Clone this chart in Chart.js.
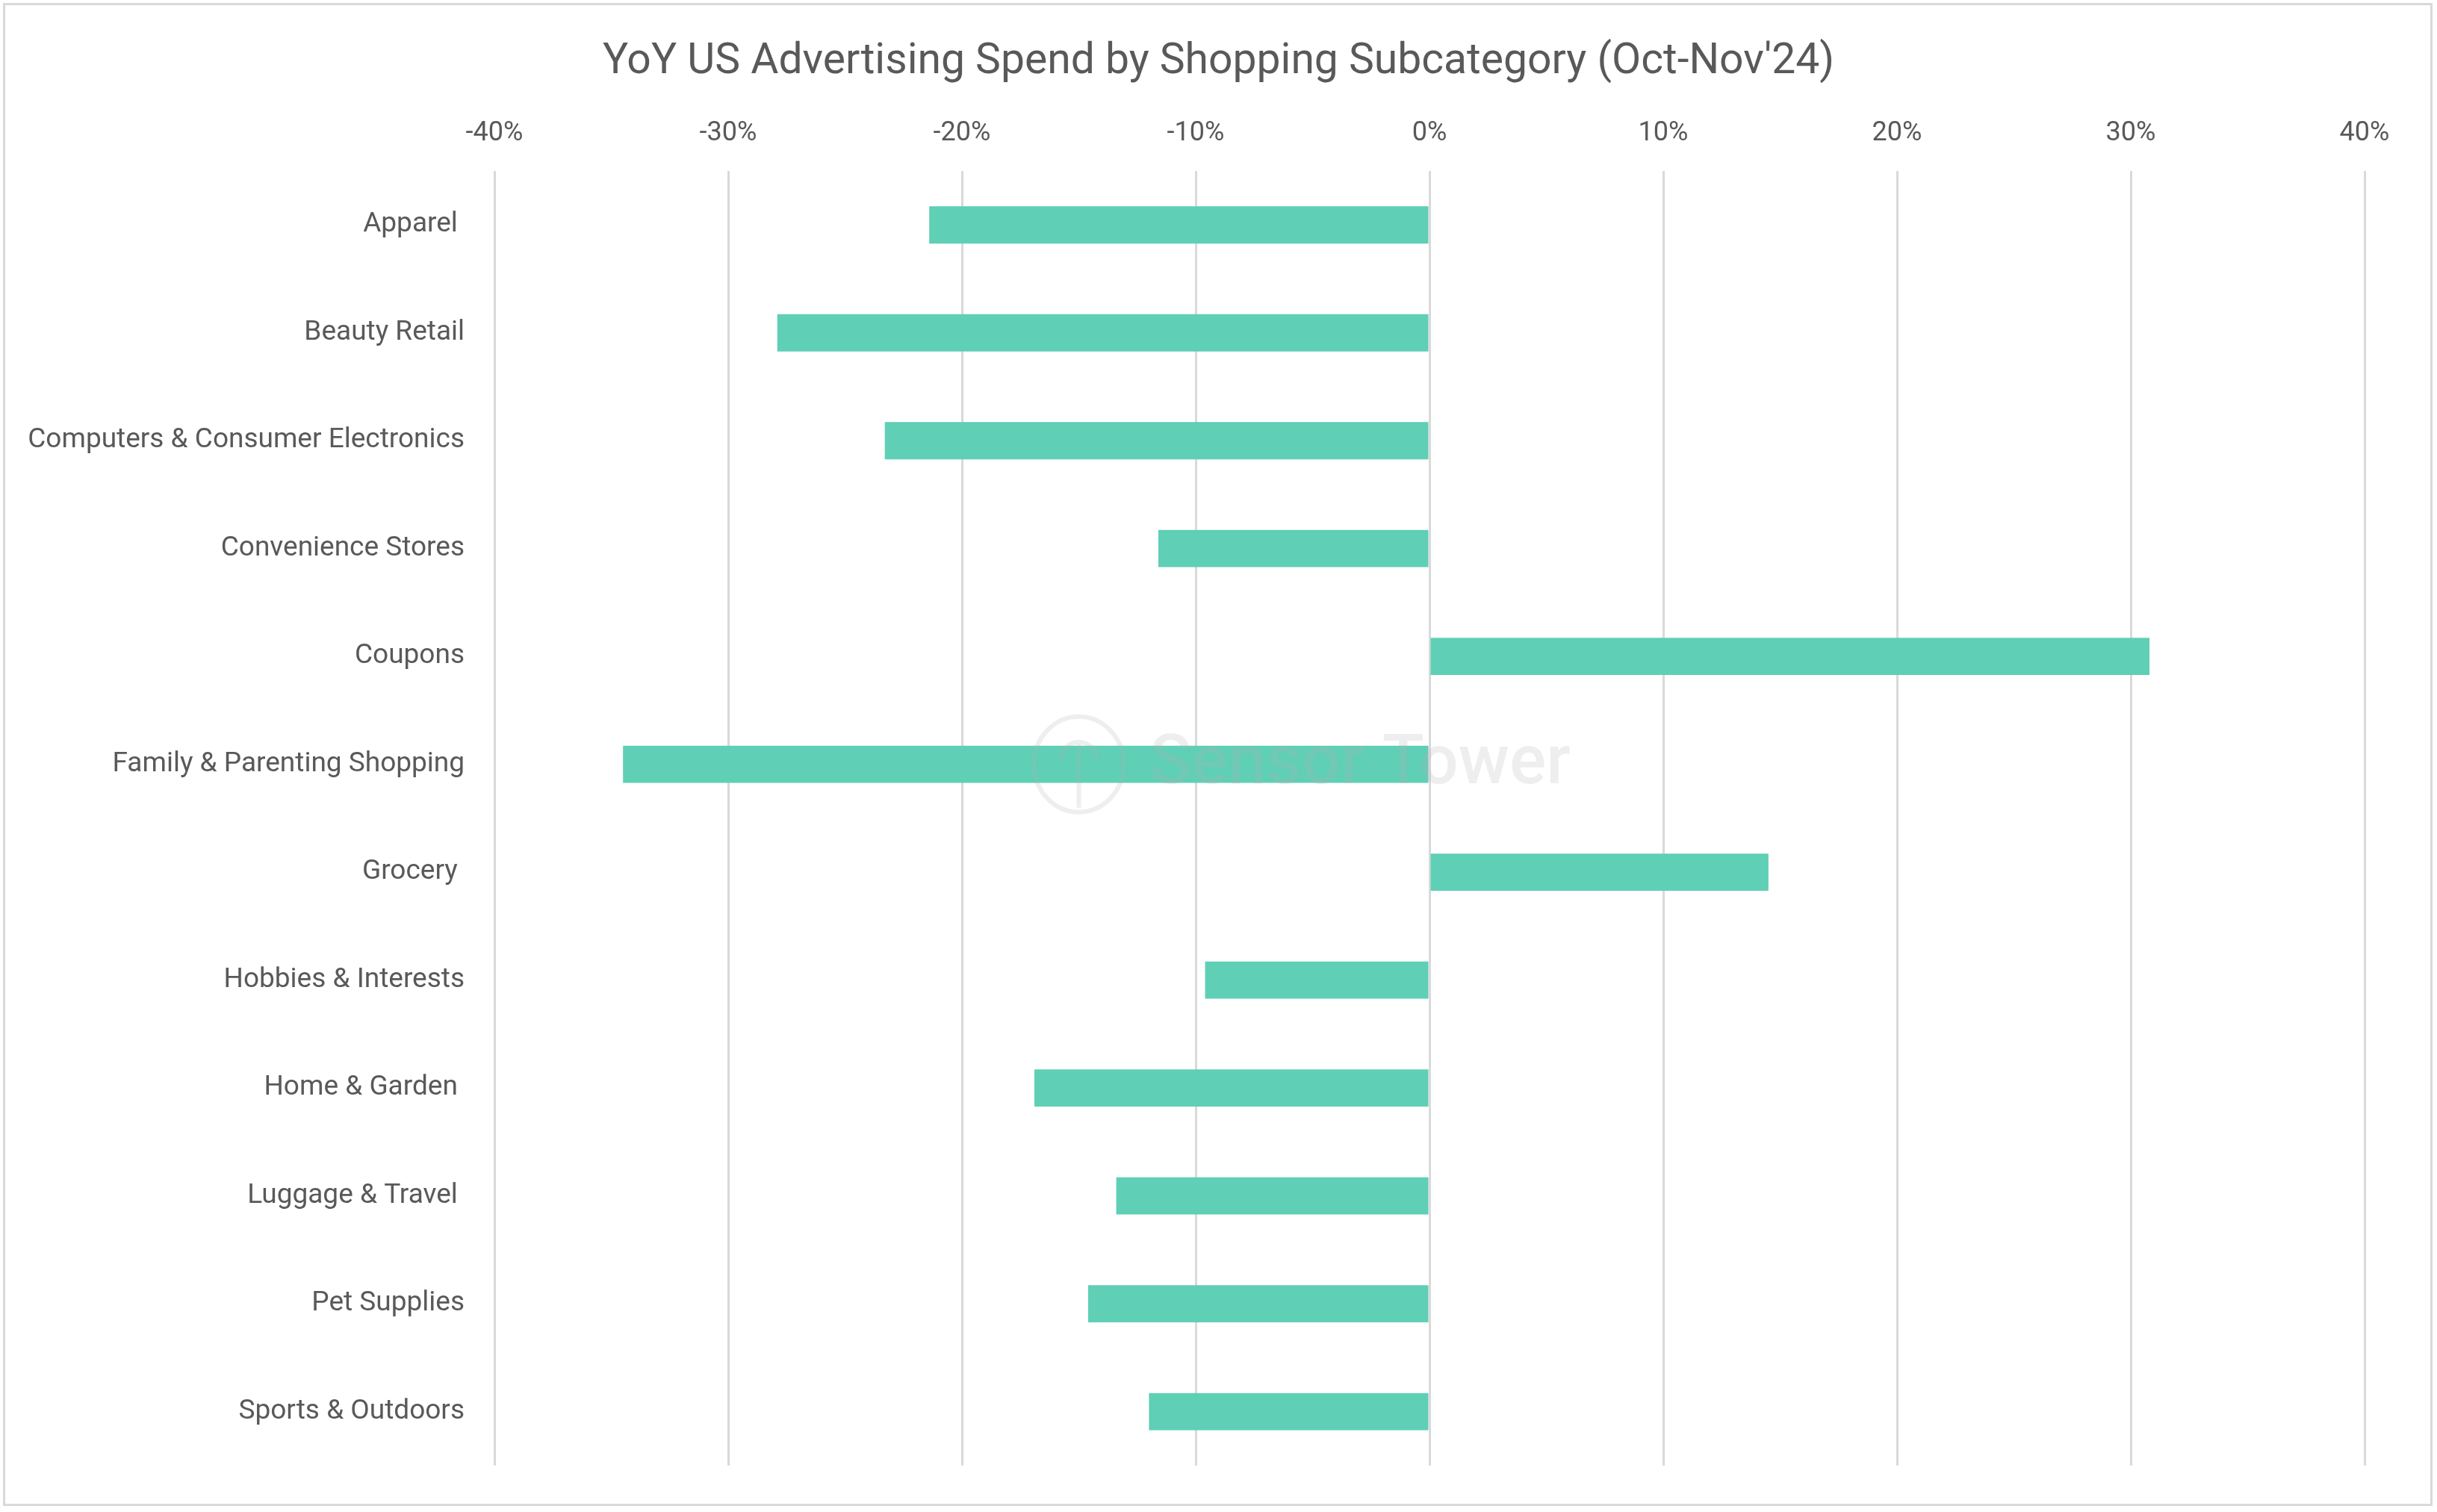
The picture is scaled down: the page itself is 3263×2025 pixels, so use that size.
<!DOCTYPE html>
<html>
<head>
<meta charset="utf-8">
<script src="https://cdn.jsdelivr.net/npm/chart.js@4"></script>
<style>
  html, body { margin: 0; padding: 0; background: #fff; }
  #wrap { position: relative; width: 3263px; height: 2025px; }
  #frame { position: absolute; left: 4px; top: 4px; right: 6px; bottom: 8px; border: 3px solid #d9d9d9; pointer-events: none; }
</style>
</head>
<body>
<div id="wrap">
  <canvas id="chart" width="3263" height="2025"></canvas>
  <div id="frame"></div>
</div>
<script>
const categories = [
  "Apparel ",
  "Beauty Retail",
  "Computers & Consumer Electronics",
  "Convenience Stores",
  "Coupons",
  "Family & Parenting Shopping",
  "Grocery ",
  "Hobbies & Interests",
  "Home & Garden ",
  "Luggage & Travel ",
  "Pet Supplies",
  "Sports & Outdoors"
]
// YoY change in %
const yoyChange = [-21.4, -27.9, -23.3, -11.6, 30.8, -34.5, 14.5, -9.6, -16.9, -13.4, -14.6, -12.0]
const xTicks = [-40, -30, -20, -10, 0, 10, 20, 30, 40]

const textColor = "#595959"
const fontFamily = "Roboto, 'Open Sans', sans-serif"

// faint watermark, painted over the bars like in the source image
const watermark = {
  id: "watermark",
  afterDatasetsDraw(chart) {
    const ctx = chart.ctx
    const x = chart.scales.x.getPixelForValue(-15)
    const y = chart.scales.y.getPixelForValue(5)
    ctx.save()
    ctx.globalAlpha = 0.22
    ctx.strokeStyle = "#b0b0b0"
    ctx.lineWidth = 6
    ctx.beginPath()
    ctx.ellipse(x, y, 60, 64, 0, 0, Math.PI * 2)
    ctx.stroke()
    ctx.beginPath()
    ctx.arc(x, y - 6, 24, Math.PI, 0)
    ctx.moveTo(x, y - 30)
    ctx.lineTo(x, y + 58)
    ctx.stroke()
    ctx.fillStyle = "#b0b0b0"
    ctx.font = "500 92px " + fontFamily
    ctx.textBaseline = "middle"
    ctx.fillText("Sensor Tower", x + 95, y + 2)
    ctx.restore()
  }
}

new Chart(document.getElementById("chart").getContext("2d"), {
  type: "bar",
  data: {
    labels: categories,
    datasets: [
      {
        label: "YoY",
        data: yoyChange,
        backgroundColor: "#5fcfb5",
        borderWidth: 0,
        barPercentage: 0.345,
        categoryPercentage: 1.0,
      },
    ],
  },
  options: {
    indexAxis: "y",
    responsive: false,
    animation: false,
    layout: { padding: { left: 0, right: 0, top: 0, bottom: 58 } },
    plugins: {
      legend: { display: false },
      tooltip: { enabled: false },
      title: {
        display: true,
        text: "YoY US Advertising Spend by Shopping Subcategory (Oct-Nov'24)",
        color: textColor,
        font: { family: fontFamily, size: 57, weight: "normal", lineHeight: 1.2 },
        padding: { top: 50, bottom: 0 },
      },
    },
    scales: {
      x: {
        position: "top",
        min: xTicks[0],
        max: xTicks[xTicks.length - 1],
        afterBuildTicks: (scale) => {
          scale.ticks = xTicks.map((v) => ({ value: v }))
        },
        afterFit: (scale) => {
          scale.height = 229 - 118.4
        },
        ticks: {
          color: textColor,
          font: { family: fontFamily, size: 36 },
          padding: 28,
          callback: (v) => v + "%",
        },
        grid: { color: "#d9d9d9", lineWidth: 3, drawTicks: false },
        border: { display: false },
      },
      y: {
        afterFit: (scale) => {
          scale.width = 662
        },
        ticks: {
          color: textColor,
          font: { family: fontFamily, size: 37 },
          padding: 40,
        },
        grid: { display: false, drawTicks: false },
        border: { display: false },
      },
      // empty right-hand axis, only keeps space so the title stays centred on the page
      yRight: {
        type: "category",
        position: "right",
        afterFit: (scale) => {
          scale.width = 97
        },
        ticks: { display: false },
        grid: { display: false, drawTicks: false },
        border: { display: false },
      },
    },
  },
  plugins: [watermark],
})
</script>
</body>
</html>
